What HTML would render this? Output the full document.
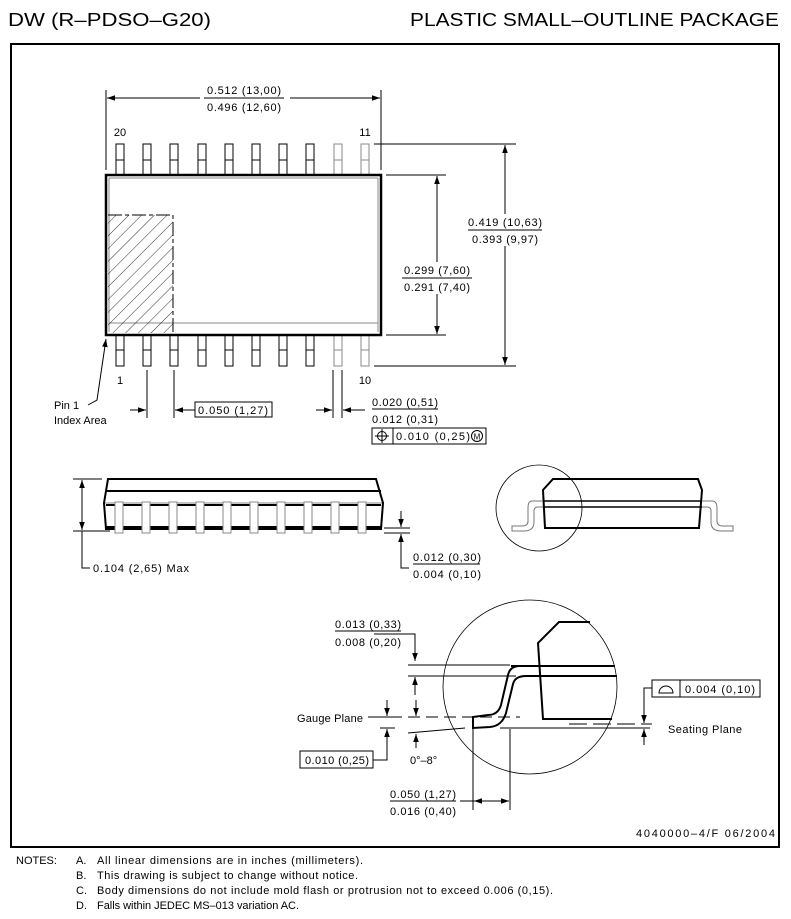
<!DOCTYPE html>
<html><head><meta charset="utf-8"><style>
html,body{margin:0;padding:0;background:#fff;}
svg{display:block;font-family:"Liberation Sans",sans-serif;}
text{fill:#000;}
</style></head><body>
<svg width="791" height="919" viewBox="0 0 791 919" xmlns="http://www.w3.org/2000/svg">
<defs>
<marker id="a" viewBox="0 0 10 10" refX="10" refY="5" markerWidth="8" markerHeight="8" orient="auto-start-reverse" markerUnits="userSpaceOnUse"><path d="M0,1.5 L10,5 L0,8.5 z" fill="#000"/></marker>
<pattern id="h" width="9" height="9" patternUnits="userSpaceOnUse" patternTransform="rotate(45)"><line x1="0" y1="0" x2="0" y2="9" stroke="#000" stroke-width="0.8"/></pattern>
</defs>
<text x="8" y="26" font-size="18" textLength="203" lengthAdjust="spacingAndGlyphs">DW (R–PDSO–G20)</text>
<text x="410" y="26" font-size="18" textLength="369" lengthAdjust="spacingAndGlyphs">PLASTIC SMALL–OUTLINE PACKAGE</text>
<rect x="11" y="44" width="768" height="803" fill="none" stroke="#000" stroke-width="2"/>

<!-- top view -->
<g stroke="#000" fill="#fff" stroke-width="1">
<rect x="116" y="144" width="8" height="31"/><line x1="116" y1="160" x2="124" y2="160"/>
<rect x="143" y="144" width="8" height="31"/><line x1="143" y1="160" x2="151" y2="160"/>
<rect x="170" y="144" width="8" height="31"/><line x1="170" y1="160" x2="178" y2="160"/>
<rect x="198" y="144" width="8" height="31"/><line x1="198" y1="160" x2="206" y2="160"/>
<rect x="225" y="144" width="8" height="31"/><line x1="225" y1="160" x2="233" y2="160"/>
<rect x="252" y="144" width="8" height="31"/><line x1="252" y1="160" x2="260" y2="160"/>
<rect x="279" y="144" width="8" height="31"/><line x1="279" y1="160" x2="287" y2="160"/>
<rect x="306" y="144" width="8" height="31"/><line x1="306" y1="160" x2="314" y2="160"/>
<rect x="334" y="144" width="8" height="31" stroke="#888"/><line x1="334" y1="160" x2="342" y2="160" stroke="#888"/>
<rect x="361" y="144" width="8" height="31" stroke="#888"/><line x1="361" y1="160" x2="369" y2="160" stroke="#888"/>
<rect x="116" y="335" width="8" height="31"/><line x1="116" y1="350" x2="124" y2="350"/>
<rect x="143" y="335" width="8" height="31"/><line x1="143" y1="350" x2="151" y2="350"/>
<rect x="170" y="335" width="8" height="31"/><line x1="170" y1="350" x2="178" y2="350"/>
<rect x="198" y="335" width="8" height="31"/><line x1="198" y1="350" x2="206" y2="350"/>
<rect x="225" y="335" width="8" height="31"/><line x1="225" y1="350" x2="233" y2="350"/>
<rect x="252" y="335" width="8" height="31"/><line x1="252" y1="350" x2="260" y2="350"/>
<rect x="279" y="335" width="8" height="31"/><line x1="279" y1="350" x2="287" y2="350"/>
<rect x="306" y="335" width="8" height="31"/><line x1="306" y1="350" x2="314" y2="350"/>
<rect x="334" y="335" width="8" height="31" stroke="#888"/><line x1="334" y1="350" x2="342" y2="350" stroke="#888"/>
<rect x="361" y="335" width="8" height="31" stroke="#888"/><line x1="361" y1="350" x2="369" y2="350" stroke="#888"/>
</g>
<rect x="106" y="175" width="275" height="160" fill="#fff" stroke="#000" stroke-width="2.5"/>
<line x1="109" y1="178" x2="378" y2="178" stroke="#888"/>
<line x1="109" y1="178" x2="109" y2="332" stroke="#888"/>
<line x1="378" y1="178" x2="378" y2="332" stroke="#888"/>
<line x1="109" y1="323" x2="378" y2="323" stroke="#888"/>
<rect x="108" y="215" width="65" height="118" fill="url(#h)"/>
<path d="M108,215 H173 V334" fill="none" stroke="#000" stroke-dasharray="14,3,4,3"/>
<text x="120" y="136" font-size="11" text-anchor="middle">20</text>
<text x="365" y="136" font-size="11" text-anchor="middle">11</text>
<text x="120" y="384" font-size="11" text-anchor="middle">1</text>
<text x="365" y="384" font-size="11" text-anchor="middle">10</text>

<g stroke="#000" stroke-width="1" fill="none">
<line x1="106" y1="90" x2="106" y2="170"/><line x1="381" y1="90" x2="381" y2="170"/>
<line x1="107" y1="98" x2="380" y2="98" marker-start="url(#a)" marker-end="url(#a)"/>
<line x1="386" y1="175" x2="446" y2="175"/><line x1="386" y1="335" x2="446" y2="335"/>
<line x1="437" y1="176" x2="437" y2="334" marker-start="url(#a)" marker-end="url(#a)"/>
<line x1="374" y1="144" x2="516" y2="144"/><line x1="374" y1="366" x2="516" y2="366"/>
<line x1="505" y1="145" x2="505" y2="365" marker-start="url(#a)" marker-end="url(#a)"/>
<path d="M106,339 L97,400 L88,405" marker-start="url(#a)"/>
<line x1="147" y1="370" x2="147" y2="418"/><line x1="174" y1="370" x2="174" y2="418"/>
<line x1="333" y1="370" x2="333" y2="418"/><line x1="342" y1="370" x2="342" y2="418"/>
<line x1="130" y1="410" x2="146" y2="410" marker-end="url(#a)"/>
<line x1="195" y1="410" x2="175" y2="410" marker-end="url(#a)"/>
<line x1="316" y1="410" x2="332" y2="410" marker-end="url(#a)"/>
<line x1="365" y1="410" x2="343" y2="410" marker-end="url(#a)"/>
<rect x="195" y="402" width="77" height="15"/>
<rect x="372" y="428" width="114" height="16"/><line x1="393" y1="428" x2="393" y2="444"/>
<circle cx="382" cy="436" r="4.5"/><line x1="382" y1="429" x2="382" y2="443"/><line x1="375" y1="436" x2="389" y2="436"/>
<circle cx="477" cy="436" r="5.5"/>
</g>
<rect x="200" y="84" width="90" height="28" fill="#fff"/>
<text x="244" y="94" font-size="11" text-anchor="middle" textLength="74">0.512 (13,00)</text>
<line x1="204" y1="98" x2="284" y2="98" stroke="#000"/>
<text x="244" y="111" font-size="11" text-anchor="middle" textLength="74">0.496 (12,60)</text>
<rect x="400" y="262" width="74" height="32" fill="#fff"/>
<text x="437" y="274" font-size="11" text-anchor="middle" textLength="66">0.299 (7,60)</text>
<line x1="402" y1="278" x2="472" y2="278" stroke="#000"/>
<text x="437" y="291" font-size="11" text-anchor="middle" textLength="66">0.291 (7,40)</text>
<rect x="466" y="214" width="78" height="32" fill="#fff"/>
<text x="505" y="226" font-size="11" text-anchor="middle" textLength="74">0.419 (10,63)</text>
<line x1="468" y1="230" x2="542" y2="230" stroke="#000"/>
<text x="505" y="243" font-size="11" text-anchor="middle" textLength="66">0.393 (9,97)</text>
<text x="54" y="409" font-size="11">Pin 1</text>
<text x="54" y="424" font-size="11">Index Area</text>
<text x="233" y="414" font-size="11" text-anchor="middle" textLength="70">0.050 (1,27)</text>
<text x="372" y="406" font-size="11" textLength="66">0.020 (0,51)</text>
<line x1="372" y1="409" x2="438" y2="409" stroke="#000"/>
<text x="372" y="423" font-size="11" textLength="66">0.012 (0,31)</text>
<text x="396" y="440" font-size="11" textLength="74">0.010 (0,25)</text>
<text x="477" y="439.5" font-size="8" text-anchor="middle">M</text>

<!-- side view -->
<g stroke="#000" fill="none">
<path d="M108,479 H376 L383,503 L381,529 H106 L104,503 Z" fill="#fff" stroke-width="2"/>
<line x1="106" y1="491" x2="381" y2="491" stroke-width="2"/>
<line x1="105" y1="503" x2="382" y2="503" stroke="#888" stroke-width="1"/>
<line x1="106" y1="505" x2="381" y2="505" stroke-width="2"/>
<line x1="106" y1="527" x2="381" y2="527" stroke-width="2"/>
</g>
<g fill="#fff" stroke="#888">
<rect x="115" y="502" width="8" height="31"/><rect x="142" y="502" width="8" height="31"/><rect x="169" y="502" width="8" height="31"/><rect x="196" y="502" width="8" height="31"/><rect x="223" y="502" width="8" height="31"/><rect x="250" y="502" width="8" height="31"/><rect x="277" y="502" width="8" height="31"/><rect x="304" y="502" width="8" height="31"/><rect x="331" y="502" width="8" height="31"/><rect x="358" y="502" width="8" height="31"/>
</g>
<g stroke="#000" fill="none">
<line x1="73" y1="479" x2="102" y2="479"/><line x1="73" y1="531" x2="110" y2="531"/>
<line x1="82" y1="480" x2="82" y2="530" marker-start="url(#a)" marker-end="url(#a)"/>
<path d="M82,531 V568 H90"/>
<line x1="384" y1="528" x2="410" y2="528"/><line x1="384" y1="533" x2="410" y2="533"/>
<line x1="401" y1="511" x2="401" y2="527" marker-end="url(#a)"/>
<line x1="401" y1="550" x2="401" y2="534" marker-end="url(#a)"/>
<path d="M401,550 V568 H409"/>
<line x1="413" y1="564" x2="480" y2="564"/>
</g>
<text x="93" y="572" font-size="11" textLength="96">0.104 (2,65) Max</text>
<text x="413" y="561" font-size="11" textLength="68">0.012 (0,30)</text>
<text x="413" y="578" font-size="11" textLength="68">0.004 (0,10)</text>

<!-- end view -->
<g stroke="#000" fill="none">
<circle cx="539" cy="508" r="43" stroke-width="0.8"/>
<path d="M553,479 H698 L702,490 L699,528 H545 L543,490 Z" stroke-width="2"/>
<line x1="543" y1="501" x2="702" y2="501" stroke-width="1.5"/>
<line x1="543" y1="507" x2="702" y2="507" stroke-width="1.5"/>
<path d="M543,501 H532 Q528,501 528,508 V521 Q528,526 522,526 H512 V531 H524 Q534,531 534,522 V511 Q534,507 538,507 H543" stroke="#777"/>
<path d="M702,501 H712 Q717,501 717,508 V521 Q717,526 723,526 H733 V531 H721 Q711,531 711,522 V511 Q711,507 707,507 H702" stroke="#777"/>
</g>

<!-- detail -->
<g stroke="#000" fill="none">
<circle cx="530" cy="687" r="87" stroke-width="0.8"/>
<path d="M590,622 H559 L538,643 L543,719 H612" stroke-width="2"/>
<line x1="511" y1="666" x2="615" y2="666" stroke-width="2"/>
<line x1="526" y1="676" x2="617" y2="676" stroke-width="2"/>
<path d="M520,666 Q510,666 508,675 L501,705 Q498,715 488,715 L473,717 V728 L490,727 Q502,726 506,713 L513,684 Q515,676 526,676" stroke-width="2"/>
<line x1="408" y1="665" x2="510" y2="665"/>
<line x1="408" y1="676" x2="516" y2="676"/>
<path d="M374,634 H415 V661" marker-end="url(#a)"/>
<line x1="415" y1="695" x2="415" y2="677" marker-end="url(#a)"/>
<line x1="368" y1="717" x2="390" y2="717"/>
<line x1="390" y1="717" x2="520" y2="717" stroke-dasharray="12,6"/>
<line x1="387" y1="700" x2="387" y2="716" marker-end="url(#a)"/>
<line x1="380" y1="728" x2="395" y2="728"/>
<line x1="416" y1="700" x2="416" y2="716" marker-end="url(#a)"/>
<line x1="408" y1="733" x2="465" y2="728"/>
<line x1="416" y1="748" x2="416" y2="734" marker-end="url(#a)"/>
<path d="M373,760 H387 V729" marker-end="url(#a)"/>
<rect x="300" y="751" width="73" height="17"/>
<line x1="500" y1="728" x2="650" y2="728"/>
<line x1="569" y1="724" x2="652" y2="724" stroke-dasharray="18,6"/>
<path d="M652,688 H644 V723" marker-end="url(#a)"/>
<line x1="644" y1="745" x2="644" y2="729" marker-end="url(#a)"/>
<rect x="652" y="680" width="108" height="17"/><line x1="680" y1="680" x2="680" y2="697"/>
<path d="M659,693 A7,7 0 0 1 673,693 Z"/>
<line x1="473" y1="729" x2="473" y2="810"/><line x1="510" y1="729" x2="510" y2="810"/>
<line x1="474" y1="801" x2="509" y2="801" marker-start="url(#a)" marker-end="url(#a)"/>
<line x1="460" y1="801" x2="474" y2="801"/>
<line x1="335" y1="631" x2="401" y2="631"/>
<line x1="390" y1="801" x2="456" y2="801"/>
</g>
<text x="335" y="628" font-size="11" textLength="66">0.013 (0,33)</text>
<text x="335" y="646" font-size="11" textLength="66">0.008 (0,20)</text>
<text x="297" y="722" font-size="11" textLength="66">Gauge Plane</text>
<text x="410" y="764" font-size="11">0°–8°</text>
<text x="305" y="764" font-size="11" textLength="64">0.010 (0,25)</text>
<text x="668" y="733" font-size="11" textLength="74">Seating Plane</text>
<text x="685" y="693" font-size="11" textLength="70">0.004 (0,10)</text>
<text x="390" y="798" font-size="11" textLength="66">0.050 (1,27)</text>
<text x="390" y="815" font-size="11" textLength="66">0.016 (0,40)</text>
<text x="636" y="837" font-size="11" textLength="139">4040000–4/F 06/2004</text>

<g font-size="11">
<text x="16" y="864">NOTES:</text>
<text x="76" y="864">A.</text><text x="97" y="864" textLength="266">All linear dimensions are in inches (millimeters).</text>
<text x="76" y="879">B.</text><text x="97" y="879" textLength="261">This drawing is subject to change without notice.</text>
<text x="76" y="894">C.</text><text x="97" y="894" textLength="456">Body dimensions do not include mold flash or protrusion not to exceed 0.006 (0,15).</text>
<text x="76" y="909">D.</text><text x="97" y="909" textLength="202">Falls within JEDEC MS–013 variation AC.</text>
</g>
</svg>
</body></html>
